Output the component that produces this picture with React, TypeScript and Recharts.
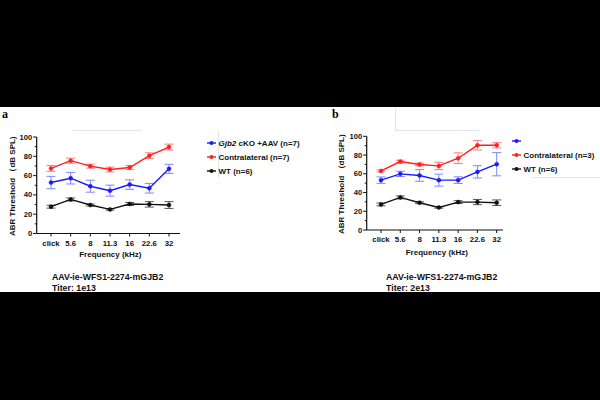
import React from 'react';
import { LineChart, Line, XAxis, YAxis, ErrorBar, Legend, Label } from 'recharts';

const categories = ['click', '5.6', '8', '11.3', '16', '22.6', '32'];
const yTicks = [0, 10, 20, 30, 40, 50, 60, 70, 80, 90, 100];

// panel a
const aAav = [52.8, 57.3, 49, 44.4, 50.7, 46.9, 67];
const aAavErr = [6.4, 6, 6.2, 5.7, 4.9, 5, 4.7];
const aContra = [67.4, 75.5, 69.8, 66.3, 68.4, 80.6, 89.6];
const aContraErr = [3, 2.6, 2, 2.5, 2, 3, 3];
const aWt = [27.8, 35.3, 29.5, 25, 30.6, 30.2, 29.5];
const aWtErr = [1.5, 1.5, 1, 0.8, 1.5, 2.8, 3.5];

// panel b
const bAav = [53.2, 59.9, 58.2, 53.2, 53.2, 62, 70.2];
const bAavErr = [3.4, 2.8, 6.2, 6.4, 3.5, 6.6, 12.4];
const bContra = [63.1, 73, 69.9, 68.4, 76.6, 90.4, 90.4];
const bContraErr = [1, 1.5, 1.5, 3.9, 5.7, 5, 2.8];
const bWt = [27.3, 34.8, 29.1, 24.1, 29.8, 29.8, 29.1];
const bWtErr = [1.5, 1.5, 1, 0.8, 1.5, 2.8, 3];

const aNames = ['Gjb2 cKO +AAV (n=7)', 'Contralateral (n=7)', 'WT (n=6)'];
const bNames = ['', 'Contralateral (n=3)', 'WT (n=6)'];

const seriesKeys = ['aav', 'contra', 'wt'];

const BLUE = '#1a1aff';
const RED = '#ff1f1f';
const BLACK = '#111111';
const FONT = '"Liberation Sans", Arial, sans-serif';

function buildRows(aav, aavErr, contra, contraErr, wt, wtErr) {
  return categories.map((c, i) => ({
    freq: c,
    aav: aav[i],
    aavErr: aavErr[i],
    contra: contra[i],
    contraErr: contraErr[i],
    wt: wt[i],
    wtErr: wtErr[i]
  }));
}

const dataA = buildRows(aAav, aAavErr, aContra, aContraErr, aWt, aWtErr);
const dataB = buildRows(bAav, bAavErr, bContra, bContraErr, bWt, bWtErr);

function YTick(props: any) {
  const { x, y, payload } = props;
  const major = payload.value % 20 === 0;
  return (
    <g>
      <line x1={x - (major ? 3.5 : 2)} x2={x} y1={y} y2={y} stroke={BLACK} strokeWidth={1} />
      {major &&
      <text x={x - 4.5} y={y} textAnchor="end" dominantBaseline="central" fontSize={7.6} fontWeight="bold" fontFamily={FONT} fill="#111">
          {payload.value}
        </text>
      }
    </g>);

}

function XTick(props: any) {
  const { x, y, payload } = props;
  return (
    <g>
      <line x1={x} x2={x} y1={y} y2={y + 3} stroke={BLACK} strokeWidth={1} />
      <text x={x} y={y + 9.5} textAnchor="middle" dominantBaseline="central" fontSize={7.8} fontWeight="bold" fontFamily={FONT} fill="#111">
        {payload.value}
      </text>
    </g>);

}

function LegendBox(props: any) {
  const { payload } = props;
  return (
    <div style={{ fontFamily: FONT, fontSize: 8, fontWeight: 'bold', color: '#111' }}>
      {payload.map((item: any, i: number) => {
        const name: string = item.value || '';
        const italic = name.startsWith('Gjb2');
        return (
          <div key={i} style={{ height: 14, display: 'flex', alignItems: 'center', whiteSpace: 'nowrap' }}>
            <svg width={10} height={8} style={{ marginRight: 1.5 }}>
              <line x1={0} x2={9} y1={4} y2={4} stroke={item.color} strokeWidth={1.4} />
              <circle cx={4.5} cy={4} r={2} fill={item.color} />
            </svg>
            {italic ?
            <span><i>Gjb2</i>{name.slice(4)}</span> :
            <span>{name}</span>}
          </div>);

      })}
    </div>);

}

function Panel({ data, names, margin, padding, legendPos, freqDy }) {
  const series = [
  { key: 'aav', err: 'aavErr', color: BLUE, errColor: '#7f86ff' },
  { key: 'contra', err: 'contraErr', color: RED, errColor: '#ff7a7a' },
  { key: 'wt', err: 'wtErr', color: BLACK, errColor: '#555555' }];

  return (
    <LineChart width={300} height={185} data={data} margin={margin}>
      <XAxis
        dataKey="freq"
        height={20}
        padding={padding}
        tickSize={0}
        tickMargin={0}
        tick={<XTick />}
        interval={0}
        stroke={BLACK}
        strokeWidth={1.2}>
        <Label
          content={(p: any) => {
            const vb = p.viewBox;
            return (
              <text x={vb.x + vb.width / 2 + 2} y={vb.y + freqDy} textAnchor="middle" dominantBaseline="central" fontSize={8} fontWeight="bold" fontFamily={FONT} fill="#111">
                Frequency (kHz)
              </text>);

          }} />
      </XAxis>
      <YAxis
        width={36.7}
        domain={[0, 100]}
        ticks={yTicks}
        interval={0}
        tickSize={0}
        tickMargin={0}
        tick={<YTick />}
        stroke={BLACK}
        strokeWidth={1.2}>
        <Label
          content={(p: any) => {
            const vb = p.viewBox;
            const cx = vb.x + 12;
            const cy = vb.y + vb.height / 2 + 1;
            return (
              <text x={cx} y={cy} transform={`rotate(-90, ${cx}, ${cy})`} textAnchor="middle" dominantBaseline="central" fontSize={8} fontWeight="bold" fontFamily={FONT} fill="#111">
                ABR Threshold （dB SPL)
              </text>);

          }} />
      </YAxis>
      <Legend
        layout="horizontal"
        verticalAlign="middle"
        align="center"
        itemSorter={(item: any) => seriesKeys.indexOf(item.dataKey)}
        content={<LegendBox />}
        wrapperStyle={{ left: legendPos.left, top: legendPos.top, width: 'auto', height: 'auto' }} />
      {series.map((s, i) =>
      <Line
        key={s.key}
        dataKey={s.key}
        name={names[i]}
        stroke={s.color}
        strokeWidth={1.4}
        dot={{ r: 2, fill: s.color, stroke: s.color, strokeWidth: 0.5 }}
        isAnimationActive={false}>
          <ErrorBar dataKey={s.err} width={4.5} strokeWidth={1} stroke={s.errColor} direction="y" />
        </Line>
      )}
    </LineChart>);

}

const captionStyle: React.CSSProperties = {
  position: 'absolute',
  fontFamily: FONT,
  fontSize: 8.8,
  fontWeight: 'bold',
  color: '#111',
  lineHeight: '11px',
  whiteSpace: 'nowrap'
};

const faint = '#e4e4e4';

export default function App() {
  return (
    <div style={{ position: 'absolute', left: 0, top: 0, width: 600, height: 400, background: '#000', overflow: 'hidden' }}>
      <div style={{ position: 'absolute', left: 0, top: 107, width: 600, height: 185, background: '#fff' }} />

      {/* faint crop lines */}
      <div style={{ position: 'absolute', left: 73, top: 130, width: 69, height: 1, background: faint }} />
      <div style={{ position: 'absolute', left: 218, top: 130, width: 1, height: 48, background: faint }} />
      <div style={{ position: 'absolute', left: 395, top: 108, width: 1, height: 22, background: faint }} />
      <div style={{ position: 'absolute', left: 395, top: 130, width: 84, height: 1, background: faint }} />
      <div style={{ position: 'absolute', left: 532, top: 177, width: 68, height: 1, background: faint }} />

      <div style={{ position: 'absolute', left: 2, top: 107, fontFamily: '"Liberation Serif", serif', fontWeight: 'bold', fontSize: 12, color: '#000' }}>a</div>
      <div style={{ position: 'absolute', left: 332, top: 107, fontFamily: '"Liberation Serif", serif', fontWeight: 'bold', fontSize: 12, color: '#000' }}>b</div>

      <div style={{ position: 'absolute', left: 0, top: 107 }}>
        <Panel
          data={dataA}
          names={aNames}
          margin={{ top: 30, right: 120, bottom: 38.5, left: 0 }}
          padding={{ left: 14.3, right: 11 }}
          legendPos={{ left: 207, top: 29 }}
          freqDy={20.5} />
      </div>
      <div style={{ position: 'absolute', left: 300, top: 107 }}>
        <Panel
          data={dataB}
          names={bNames}
          margin={{ top: 29.3, right: 97, bottom: 42, left: 30 }}
          padding={{ left: 14.3, right: 6.3 }}
          legendPos={{ left: 212, top: 27 }}
          freqDy={22} />
      </div>

      <div style={{ ...captionStyle, left: 52, top: 272 }}>
        AAV-ie-WFS1-2274-mGJB2<br />Titer: 1e13
      </div>
      <div style={{ ...captionStyle, left: 386, top: 272 }}>
        AAV-ie-WFS1-2274-mGJB2<br />Titer: 2e13
      </div>
    </div>);

}
